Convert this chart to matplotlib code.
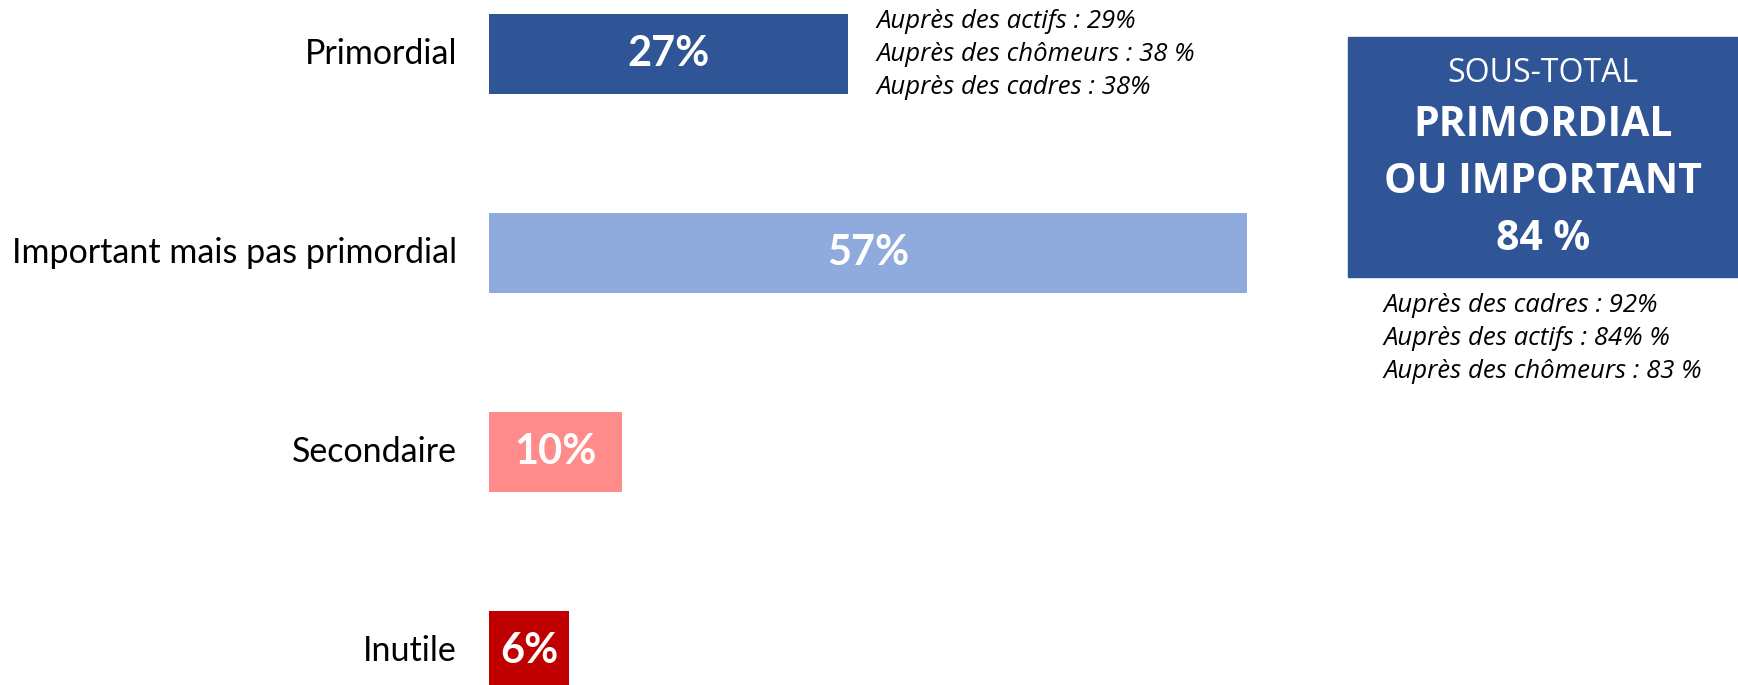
import matplotlib.pyplot as plt
from matplotlib.patches import Rectangle

categories = ['Primordial', 'Important mais pas primordial', 'Secondaire', 'Inutile']
values = [27, 57, 10, 6]
colors = ['#2F5597', '#8FAADC', '#FF8B8B', '#C00000']

primordial_notes = ['Auprès des actifs : 29%',
                    'Auprès des chômeurs : 38 %',
                    'Auprès des cadres : 38%']
subtotal = values[0] + values[1]
subtotal_notes = ['Auprès des cadres : 92%',
                  'Auprès des actifs : 84% %',
                  'Auprès des chômeurs : 83 %']

W, H = 1738, 685
fig = plt.figure(figsize=(W / 100, H / 100), dpi=100)
ax = fig.add_axes([0, 0, 1, 1])

px_per_pct = 13.3   # horizontal scale
x0 = 489            # bar start, px
step = 199          # px between bars
top = 54            # first bar centre, px

ypos = list(range(len(categories)))
ax.barh(ypos, values, height=80 / step, color=colors)
ax.set_xlim(-x0 / px_per_pct, (W - x0) / px_per_pct)
ax.set_ylim((H - top) / step, -top / step)
ax.axis('off')

for y, cat, v in zip(ypos, categories, values):
    ax.text(-2.4, y, cat, ha='right', va='center', fontsize=24.5,
            family='Lato', color='black')
    ax.text(v / 2, y, f'{v}%', ha='center', va='center', fontsize=30,
            family='Lato', weight='bold', color='white')

# notes next to first bar
for i, note in enumerate(primordial_notes):
    fig.text(876 / W, 1 - (22 + 32.5 * i) / H, note, ha='left', va='center',
             fontsize=18.5, style='italic', family='Open Sans')

# sub-total box
fig.add_artist(Rectangle((1348 / W, 1 - 277 / H), (W - 1348) / W, 240 / H,
                         transform=fig.transFigure, color='#2F5597'))
cx = 1543 / W
fig.text(cx, 1 - 73 / H, 'SOUS-TOTAL', ha='center', va='center',
         fontsize=23, family='Open Sans', color='white')
fig.text(cx, 1 - 125 / H, 'PRIMORDIAL', ha='center', va='center',
         fontsize=29.5, family='Open Sans', weight='bold', color='white')
fig.text(cx, 1 - 183 / H, 'OU IMPORTANT', ha='center', va='center',
         fontsize=29.5, family='Open Sans', weight='bold', color='white')
fig.text(cx, 1 - 240 / H, f'{subtotal} %', ha='center', va='center',
         fontsize=29.5, family='Open Sans', weight='bold', color='white')

for i, note in enumerate(subtotal_notes):
    fig.text(1383 / W, 1 - (305 + 33.5 * i) / H, note, ha='left', va='center',
             fontsize=18.5, style='italic', family='Open Sans')

fig.savefig('out.png', dpi=100)
